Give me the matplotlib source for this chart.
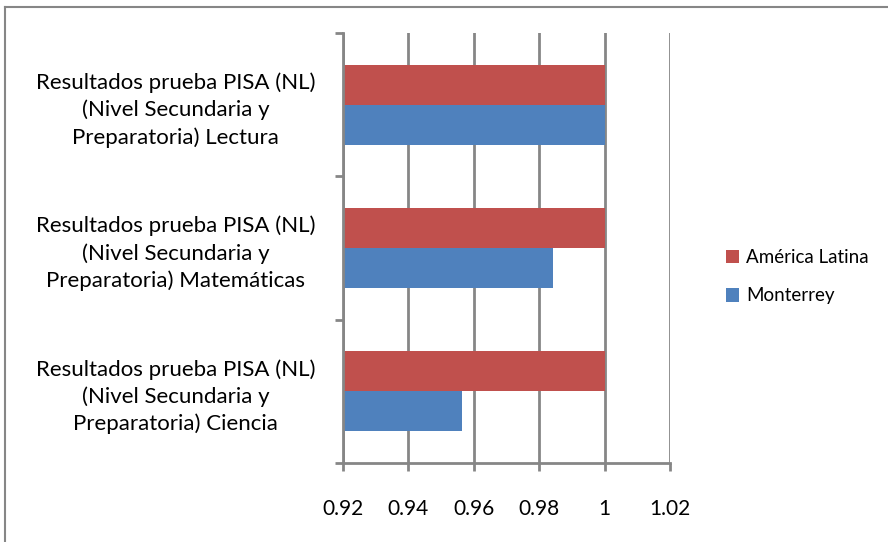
import matplotlib
matplotlib.use("Agg")
import matplotlib.pyplot as plt
from matplotlib.lines import Line2D
import numpy as np

categories = [
    "Resultados prueba PISA (NL)\n(Nivel Secundaria y\nPreparatoria) Ciencia",
    "Resultados prueba PISA (NL)\n(Nivel Secundaria y\nPreparatoria) Matemáticas",
    "Resultados prueba PISA (NL)\n(Nivel Secundaria y\nPreparatoria) Lectura",
]
series_names = ["Monterrey", "América Latina"]
monterrey = [0.9564, 0.9841, 1.0]
america_latina = [1.0, 1.0, 1.0]
xticks = [0.92, 0.94, 0.96, 0.98, 1.0, 1.02]
xticklabels = ["0.92", "0.94", "0.96", "0.98", "1", "1.02"]

plt.rcParams['font.family'] = ['Lato', 'DejaVu Sans']

fig = plt.figure(figsize=(8.88, 5.42), dpi=100)
W, H = 888, 542
ax = fig.add_axes([343 / W, 1 - 463 / H, (670 - 343) / W, (463 - 33) / H])

y = np.arange(len(categories))
h = 0.28
gray = "#868686"
ax.barh(y - h / 2, monterrey, height=h, color="#4F81BD", left=0, zorder=3, label=series_names[0])
ax.barh(y + h / 2, america_latina, height=h, color="#C0504D", left=0, zorder=3, label=series_names[1])

ax.set_xlim(0.92, 1.02)
ax.set_ylim(-0.5, 2.5)
ax.set_xticks(xticks)
ax.set_xticklabels(xticklabels, fontsize=15)
ax.set_yticks([-0.5, 0.5, 1.5, 2.5])
ax.set_yticklabels([])
ax.set_yticks(y, minor=True)
ax.set_yticklabels(categories, minor=True, fontsize=16, ha="right",
                   multialignment="center", linespacing=1.4)
ax.tick_params(axis="y", which="minor", length=0, pad=20)
ax.tick_params(axis="y", which="major", length=6, width=2, color=gray, direction="out")
ax.tick_params(axis="x", length=6, width=2, color=gray, direction="out", pad=20)
ax.grid(axis="x", color=gray, linewidth=2, zorder=0)
for s in ["top", "right"]:
    ax.spines[s].set_visible(False)
for s in ["left", "bottom"]:
    ax.spines[s].set_color(gray)
    ax.spines[s].set_linewidth(2)
    ax.spines[s].set_zorder(4)

handles, labels = ax.get_legend_handles_labels()
leg = fig.legend(handles[::-1], labels[::-1], loc="upper left",
                 bbox_to_anchor=(709 / W, 1 - 232 / H), frameon=False,
                 fontsize=13.5, handlelength=0.72, handleheight=0.72,
                 labelspacing=1.15, handletextpad=0.35)

# outer chart frame (only top and left edges are visible in the crop)
fig.add_artist(Line2D([5 / W, 1], [1 - 7 / H, 1 - 7 / H], transform=fig.transFigure,
                      color=gray, linewidth=1.5))
fig.add_artist(Line2D([5 / W, 5 / W], [0, 1 - 7 / H], transform=fig.transFigure,
                      color=gray, linewidth=1.5))

fig.savefig("out.png", dpi=100)
